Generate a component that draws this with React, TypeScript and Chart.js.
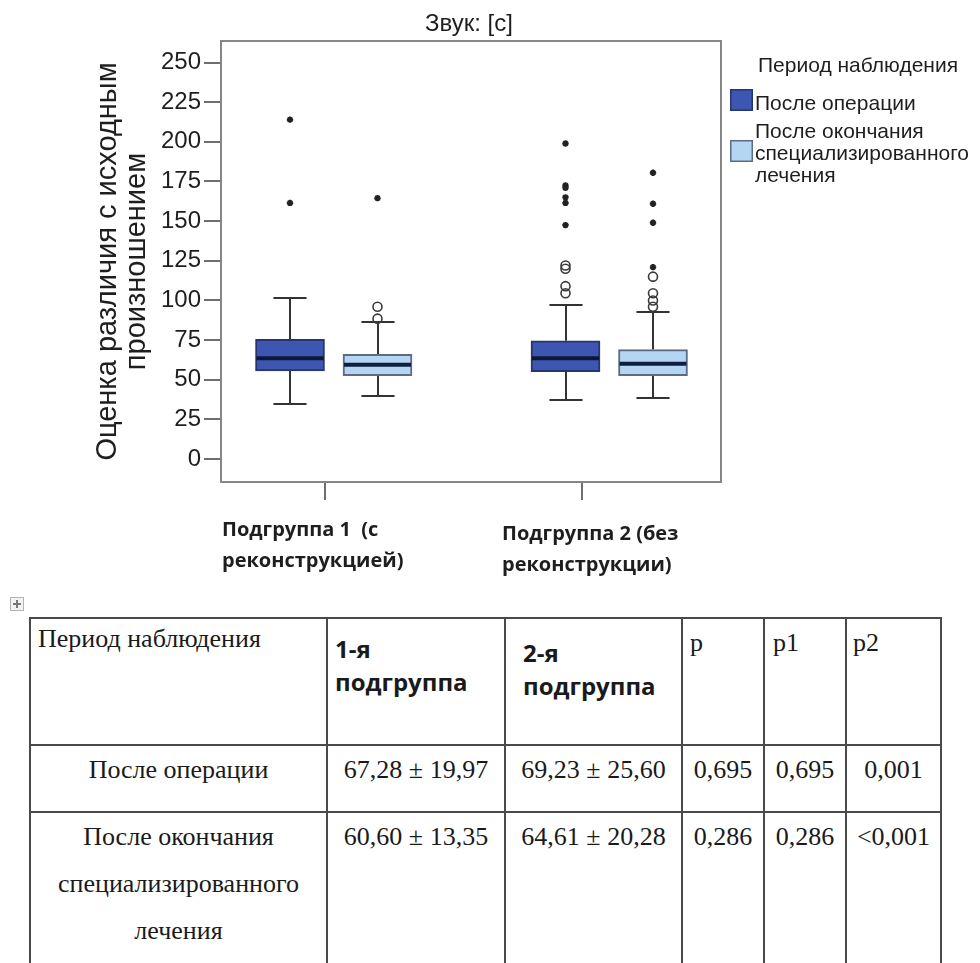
import { useEffect, useRef } from 'react';
import { Chart, registerables } from 'chart.js';

Chart.register(...registerables);

// ---------------------------------------------------------------- texts
const chartTitle = 'Звук: [с]';
const yAxisTitle = ['Оценка различия с исходным', 'произношением'];
const yTickValues = [0, 25, 50, 75, 100, 125, 150, 175, 200, 225, 250];
const subgroupLabels = [
  ['Подгруппа 1  (с', 'реконструкцией)'],
  ['Подгруппа 2 (без', 'реконструкции)'],
];
const legendTitle = 'Период наблюдения';
const periodLabels = [
  ['После операции'],
  ['После окончания', 'специализированного', 'лечения'],
];

// ------------------------------------------- «После операции», per subgroup
const surgeryMin = [35, 37.5];
const surgeryQ1 = [55.5, 55];
const surgeryMedian = [63.5, 63.5];
const surgeryQ3 = [75.5, 74.5];
const surgeryMax = [101.5, 97];
const surgeryOutliers = [[], [122, 120, 109, 104.5]];
const surgeryExtremes = [[214, 161.5], [199, 172.5, 171, 165, 161.5, 147.5]];

// ------------- «После окончания специализированного лечения», per subgroup
const treatmentMin = [39.5, 38.5];
const treatmentQ1 = [52.5, 52.5];
const treatmentMedian = [59.5, 60];
const treatmentQ3 = [66, 69];
const treatmentMax = [86.5, 93];
const treatmentOutliers = [[96, 88.5], [115, 104.5, 100, 96]];
const treatmentExtremes = [[164.5], [180.5, 161, 149, 121]];

// ---------------------------------------------------------------- table
const tableHeadPeriod = 'Период наблюдения';
const tableHeadGroups = [['1-я', 'подгруппа'], ['2-я', 'подгруппа']];
const tableHeadP = ['p', 'p1', 'p2'];
const tablePeriods = [['После операции'], ['После окончания', 'специализированного', 'лечения']];
const subgroup1Stats = ['67,28 ± 19,97', '60,60 ± 13,35'];
const subgroup2Stats = ['69,23 ± 25,60', '64,61 ± 20,28'];
const pValues = ['0,695', '0,286'];
const p1Values = ['0,695', '0,286'];
const p2Values = ['0,001', '<0,001'];

// ---------------------------------------------------------------- layout
const CANVAS_W = 980;
const CANVAS_H = 592;
const AREA = { left: 221, top: 41, right: 721, bottom: 482 };
const Y_MIN = -14.5;
const Y_MAX = 263.6;
const X_MIN = 0;
const X_MAX = 100;
const GROUP_X = [22.5, 77.6];
const SERIES_SHIFT = [-8.7, 8.8];
const TICK_X = [20.8, 72.2];
const BOX_PX = 69;
const SANS = '"Liberation Sans", Arial, sans-serif';
const SANS_BOLD = '"Open Sans", "Noto Sans", sans-serif';
const SERIF = '"Liberation Serif", "Times New Roman", serif';
const INK = '#1e1e1e';

const series = [
  {
    fill: '#3d56b2', edge: '#26346f', median: '#0c1838',
    min: surgeryMin, q1: surgeryQ1, med: surgeryMedian, q3: surgeryQ3, max: surgeryMax,
    mild: surgeryOutliers, extreme: surgeryExtremes,
  },
  {
    fill: '#b5d5f4', edge: '#5d6c82', median: '#0f1f3f',
    min: treatmentMin, q1: treatmentQ1, med: treatmentMedian, q3: treatmentQ3, max: treatmentMax,
    mild: treatmentOutliers, extreme: treatmentExtremes,
  },
];

const boxX = (si: number, g: number) => GROUP_X[g] + SERIES_SHIFT[si];

const boxDecor = {
  id: 'boxDecor',
  beforeDatasetsDraw(chart: any) {
    const { ctx, chartArea: a } = chart;
    const x = chart.scales.x;
    const y = chart.scales.y;
    ctx.save();
    // plot frame
    ctx.strokeStyle = '#868686';
    ctx.lineWidth = 2;
    ctx.strokeRect(a.left, a.top, a.right - a.left, a.bottom - a.top);
    // whiskers with caps
    ctx.strokeStyle = '#333333';
    ctx.lineWidth = 2;
    const cap = BOX_PX * 0.24;
    series.forEach((s, si) => {
      s.q1.forEach((_, g) => {
        const cx = Math.round(x.getPixelForValue(boxX(si, g)));
        const yHi = Math.round(y.getPixelForValue(s.max[g]));
        const yLo = Math.round(y.getPixelForValue(s.min[g]));
        ctx.beginPath();
        ctx.moveTo(cx, y.getPixelForValue(s.q3[g]));
        ctx.lineTo(cx, yHi);
        ctx.moveTo(cx - cap, yHi);
        ctx.lineTo(cx + cap, yHi);
        ctx.moveTo(cx, y.getPixelForValue(s.q1[g]));
        ctx.lineTo(cx, yLo);
        ctx.moveTo(cx - cap, yLo);
        ctx.lineTo(cx + cap, yLo);
        ctx.stroke();
      });
    });
    ctx.restore();
  },
  afterDatasetsDraw(chart: any) {
    const { ctx } = chart;
    const x = chart.scales.x;
    const y = chart.scales.y;
    ctx.save();
    ctx.lineWidth = 4;
    series.forEach((s, si) => {
      ctx.strokeStyle = s.median;
      s.med.forEach((m, g) => {
        const cx = x.getPixelForValue(boxX(si, g));
        const ym = y.getPixelForValue(m);
        ctx.beginPath();
        ctx.moveTo(cx - BOX_PX / 2 + 1, ym);
        ctx.lineTo(cx + BOX_PX / 2 - 1, ym);
        ctx.stroke();
      });
    });
    ctx.restore();
  },
  afterDraw(chart: any) {
    const { ctx, chartArea: a } = chart;
    ctx.save();
    ctx.fillStyle = INK;
    ctx.textBaseline = 'alphabetic';

    // title
    ctx.font = `24px ${SANS}`;
    ctx.textAlign = 'center';
    ctx.fillText(chartTitle, (a.left + a.right) / 2 - 2, 31);

    // subgroup captions under the axis
    ctx.font = `bold 20px ${SANS_BOLD}`;
    ctx.textAlign = 'left';
    const capPos = [
      { x: a.left + 1, y: 536 },
      { x: a.left + 281, y: 540 },
    ];
    subgroupLabels.forEach((lines, g) => {
      lines.forEach((line, i) => ctx.fillText(line, capPos[g].x, capPos[g].y + i * 31));
    });

    // legend
    const lx = a.right + 9;
    ctx.font = `21px ${SANS}`;
    ctx.fillText(legendTitle, lx + 28, 72);
    const itemTop = [89, 140];
    const textBase = [110, 138];
    periodLabels.forEach((lines, i) => {
      const s = series[i];
      ctx.fillStyle = s.fill;
      ctx.fillRect(lx, itemTop[i], 23, 22);
      ctx.strokeStyle = s.edge;
      ctx.lineWidth = 1.5;
      ctx.strokeRect(lx + 0.75, itemTop[i] + 0.75, 21.5, 20.5);
      ctx.fillStyle = INK;
      lines.forEach((line, k) => ctx.fillText(line, lx + 25, textBase[i] + k * 22));
    });
    ctx.restore();
  },
};

function buildDatasets() {
  const datasets: any[] = [];
  series.forEach((s, si) => {
    datasets.push({
      type: 'bar',
      label: periodLabels[si].join(' '),
      data: s.q1.map((q, g) => ({ x: boxX(si, g), y: [q, s.q3[g]] })),
      backgroundColor: s.fill,
      borderColor: s.edge,
      borderWidth: 2,
      borderSkipped: false,
      barThickness: BOX_PX,
      grouped: false,
      order: 2,
    });
  });
  series.forEach((s, si) => {
    datasets.push({
      type: 'scatter',
      label: 'outliers',
      data: s.mild.flatMap((vals, g) => vals.map((v) => ({ x: boxX(si, g), y: v }))),
      pointStyle: 'circle',
      pointRadius: 4.5,
      pointBorderWidth: 1.6,
      pointBorderColor: '#3a3a3a',
      pointBackgroundColor: 'rgba(255,255,255,0)',
      order: 1,
    });
    datasets.push({
      type: 'scatter',
      label: 'extremes',
      data: s.extreme.flatMap((vals, g) => vals.map((v) => ({ x: boxX(si, g), y: v }))),
      pointStyle: 'star',
      pointRadius: 3.2,
      pointBorderWidth: 2,
      pointBorderColor: '#222222',
      pointBackgroundColor: '#222222',
      order: 1,
    });
  });
  return datasets;
}

function TableText(props: {
  left: number; top: number; width?: number; lines: string[];
  font: string; size: number; lineHeight: number; weight?: number; align?: 'left' | 'center';
}) {
  const { left, top, width, lines, font, size, lineHeight, weight, align } = props;
  return (
    <div
      style={{
        position: 'absolute', left, top, width, textAlign: align || 'left',
        fontFamily: font, fontSize: size, lineHeight: `${lineHeight}px`,
        fontWeight: weight || 400, color: '#1a1a1a', whiteSpace: 'nowrap',
      }}
    >
      {lines.map((l, i) => <div key={i}>{l}</div>)}
    </div>
  );
}

const COL_X = [30, 327, 505, 682, 764, 846, 941];
const ROW_Y = [618, 745, 812];
const TABLE_END = 1000;

function StatsTable() {
  const bodyTop = [746, 813];
  const bodyCols = [tablePeriods.map((p) => p), subgroup1Stats.map((v) => [v]), subgroup2Stats.map((v) => [v]),
    pValues.map((v) => [v]), p1Values.map((v) => [v]), p2Values.map((v) => [v])];
  const lineColor = '#4a4a4a';
  return (
    <>
      {/* table move handle */}
      <div style={{ position: 'absolute', left: 10, top: 597, width: 14, height: 14, border: '1px solid #b5b5b5', background: '#f3f3f3', boxSizing: 'border-box' }}>
        <div style={{ position: 'absolute', left: 5, top: 2, width: 2, height: 8, background: '#777' }} />
        <div style={{ position: 'absolute', left: 2, top: 5, width: 8, height: 2, background: '#777' }} />
      </div>
      {COL_X.map((x, i) => (
        <div key={`v${i}`} style={{ position: 'absolute', left: x - 1, top: ROW_Y[0] - 1, width: 2, height: TABLE_END - ROW_Y[0], background: lineColor }} />
      ))}
      {ROW_Y.map((y, i) => (
        <div key={`h${i}`} style={{ position: 'absolute', left: COL_X[0] - 1, top: y - 1, width: COL_X[6] - COL_X[0] + 2, height: 2, background: lineColor }} />
      ))}
      <TableText left={38} top={624} lines={[tableHeadPeriod]} font={SERIF} size={26} lineHeight={30} />
      <TableText left={335} top={632} lines={tableHeadGroups[0]} font={SANS_BOLD} size={24} lineHeight={33} weight={700} />
      <TableText left={523} top={636} lines={tableHeadGroups[1]} font={SANS_BOLD} size={24} lineHeight={33} weight={700} />
      {tableHeadP.map((p, i) => (
        <TableText key={p} left={[690, 773, 853][i]} top={628} lines={[p]} font={SERIF} size={26} lineHeight={30} />
      ))}
      {bodyCols.map((col, c) =>
        col.map((lines, r) => (
          <TableText
            key={`${c}-${r}`}
            left={COL_X[c]}
            width={COL_X[c + 1] - COL_X[c]}
            top={bodyTop[r]}
            lines={lines}
            font={SERIF}
            size={26}
            lineHeight={47}
            align="center"
          />
        )),
      )}
    </>
  );
}

export default function App() {
  const canvasRef = useRef<HTMLCanvasElement | null>(null);

  useEffect(() => {
    const canvas = canvasRef.current;
    if (!canvas) return;
    const chart = new Chart(canvas, {
      type: 'bar',
      data: { datasets: buildDatasets() },
      options: {
        responsive: false,
        animation: false,
        devicePixelRatio: 1,
        events: [],
        layout: { padding: { top: AREA.top, right: CANVAS_W - AREA.right, bottom: 0, left: 0 } },
        plugins: { legend: { display: false }, tooltip: { enabled: false }, title: { display: false } },
        scales: {
          x: {
            type: 'linear',
            min: X_MIN,
            max: X_MAX,
            offset: false,
            border: { display: false },
            grid: { offset: false, drawOnChartArea: false, drawTicks: true, tickLength: 18, color: '#6e6e6e', lineWidth: 2 },
            ticks: { display: false },
            afterBuildTicks: (scale: any) => {
              scale.ticks = TICK_X.map((value) => ({ value }));
            },
            afterFit: (scale: any) => {
              scale.height = CANVAS_H - AREA.bottom;
            },
          },
          y: {
            type: 'linear',
            min: Y_MIN,
            max: Y_MAX,
            border: { display: false },
            grid: { drawOnChartArea: false, drawTicks: true, tickLength: 17, color: '#6e6e6e', lineWidth: 2 },
            ticks: { autoSkip: false, padding: 3, color: INK, font: { family: SANS, size: 24 } },
            afterBuildTicks: (scale: any) => {
              scale.ticks = yTickValues.map((value) => ({ value }));
            },
            title: {
              display: true,
              text: yAxisTitle,
              color: INK,
              font: { family: SANS, size: 29, lineHeight: 1 },
              padding: { top: 93.5, bottom: 0 },
            },
            afterFit: (scale: any) => {
              scale.width = AREA.left;
            },
          },
        },
      } as any,
      plugins: [boxDecor],
    });
    return () => chart.destroy();
  }, []);

  return (
    <div style={{ position: 'absolute', left: 0, top: 0, width: 980, height: 963, overflow: 'hidden', background: '#ffffff' }}>
      <canvas
        ref={canvasRef}
        width={CANVAS_W}
        height={CANVAS_H}
        style={{ position: 'absolute', left: 0, top: 0, width: CANVAS_W, height: CANVAS_H }}
      />
      <StatsTable />
    </div>
  );
}
